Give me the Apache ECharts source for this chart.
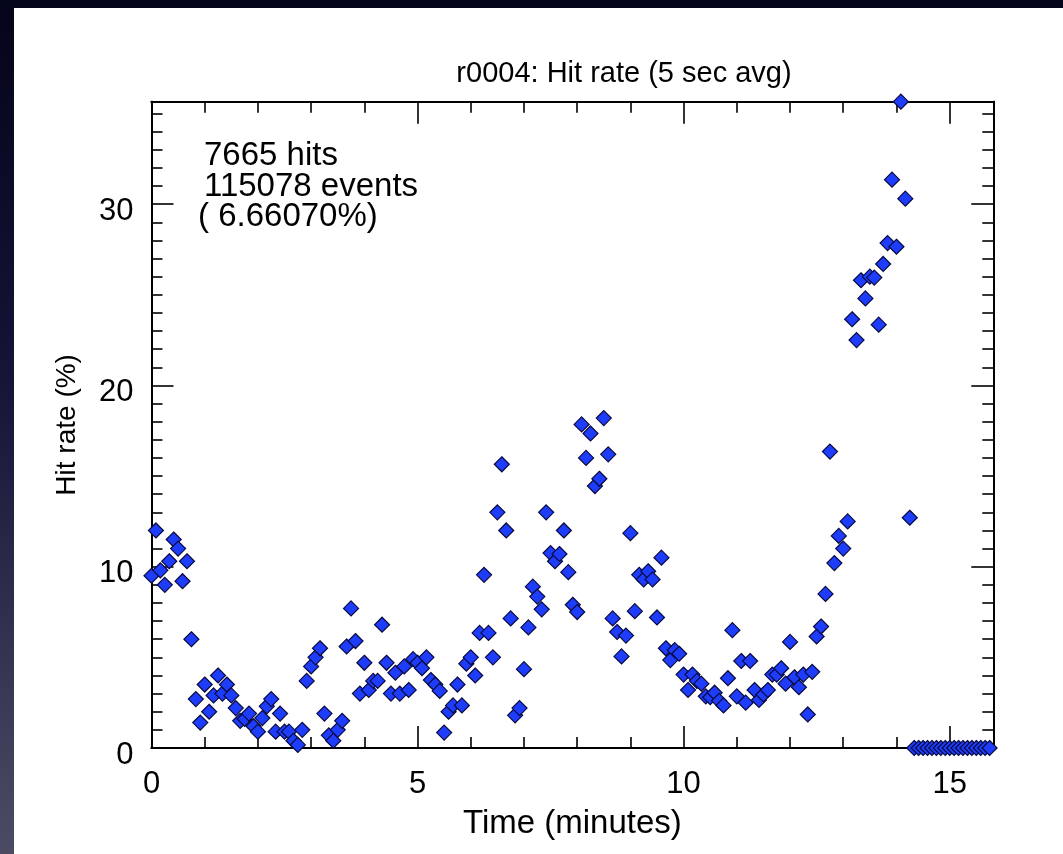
<!DOCTYPE html>
<html>
<head>
<meta charset="utf-8" />
<title>r0004: Hit rate</title>
<style>
  html, body { margin: 0; padding: 0; }
  body {
    width: 1063px; height: 854px; position: relative; overflow: hidden;
    background: linear-gradient(to bottom, #04041a 0%, #141538 45%, #4b4c64 100%);
  }
  #panel { position: absolute; left: 14px; top: 8px; right: 0; bottom: 0; background: #fff; }
  #main { position: absolute; left: 0; top: 0; width: 1063px; height: 854px; }
</style>
</head>
<body>
<div id="panel"></div>
<div id="main"></div>
<script src="https://cdn.jsdelivr.net/npm/echarts@6/dist/echarts.min.js"></script>
<script>
// one sample every 5 seconds (title: "5 sec avg"), x axis in minutes
var SAMPLE_SEC = 5;

// hit rate (%) per 5 s sample
var hitRate = [
  9.5, 12.0, 9.8, 9.0, 10.3, 11.5, 11.0, 9.2, 10.3, 6.0,
  2.7, 1.4, 3.5, 2.0, 2.9, 4.0, 3.0, 3.5, 2.9, 2.2,
  1.5, 1.6, 1.9, 1.2, 0.9, 1.65, 2.3, 2.7, 0.9, 1.9,
  0.9, 0.9, 0.4, 0.17, 1.0, 3.7, 4.5, 5.0, 5.5, 1.9,
  0.7, 0.4, 1.0, 1.5, 5.6, 7.7, 5.9, 3.0, 4.7, 3.2,
  3.7, 3.7, 6.8, 4.7, 3.0, 4.15, 3.0, 4.5, 3.2, 4.9,
  4.7, 4.4, 5.0, 3.75, 3.5, 3.15, 0.85, 2.0, 2.35, 3.5,
  2.35, 4.65, 5.0, 4.0, 6.35, 9.55, 6.35, 5.0, 13.0, 15.65,
  12.0, 7.15, 1.8, 2.2, 4.35, 6.65, 8.9, 8.35, 7.65, 13.0,
  10.75, 10.3, 10.7, 12.0, 9.7, 7.9, 7.5, 17.85, 16.0, 17.35,
  14.45, 14.85, 18.2, 16.2, 7.15, 6.4, 5.05, 6.2, 11.85, 7.55,
  9.55, 9.3, 9.75, 9.3, 7.2, 10.5, 5.5, 4.85, 5.4, 5.2,
  4.05, 3.2, 4.05, 3.7, 3.55, 2.85, 2.8, 3.05, 2.6, 2.35,
  3.85, 6.5, 2.85, 4.8, 2.5, 4.8, 3.2, 2.65, 2.95, 3.2,
  4.05, 4.05, 4.4, 3.55, 5.85, 3.9, 3.35, 4.05, 1.85, 4.2,
  6.15, 6.7, 8.5, 16.35, 10.2, 11.7, 11.0, 12.5, 23.65, 22.5,
  25.8, 24.8, 26.0, 25.95, 23.35, 26.7, 27.85, 31.35, 27.65, 35.65,
  30.3, 12.7, 0, 0, 0, 0, 0, 0, 0, 0,
  0, 0, 0, 0, 0, 0, 0, 0, 0, 0
];

var xLabels = [0, 5, 10, 15];
var xMinor = [1, 2, 3, 4, 6, 7, 8, 9, 11, 12, 13, 14];
var yLabels = [0, 10, 20, 30];
var yMinor = [1, 2, 3, 4, 5, 6, 7, 8, 9, 11, 12, 13, 14, 15, 16, 17, 18, 19,
              21, 22, 23, 24, 25, 26, 27, 28, 29, 31, 32, 33, 34, 35];
var X_MAX = 15.82;
var Y_MAX = 35.65;

var FONT = '"Liberation Sans", Arial, Helvetica, sans-serif';

function axisBase(pos, max, ticks, len) {
    return {
        type: 'value',
        position: pos,
        min: 0,
        max: max,
        axisLine: { show: true, onZero: false, lineStyle: { color: '#000', width: 2 } },
        axisTick: { show: true, inside: true, length: len, customValues: ticks,
                    lineStyle: { color: '#000', width: 1.6 } },
        axisLabel: { show: false },
        splitLine: { show: false }
    };
}

var xMain = axisBase('bottom', X_MAX, xLabels, 22);
xMain.axisLabel = { show: true, customValues: xLabels, fontSize: 31, color: '#000',
                    fontFamily: FONT, margin: 21 };
xMain.name = 'Time (minutes)';
xMain.nameLocation = 'middle';
xMain.nameGap = 59;
xMain.nameTextStyle = { fontSize: 33, color: '#000', fontFamily: FONT };

var yMain = axisBase('left', Y_MAX, yLabels, 22);
// labels sit a little below their ticks in the original
yMain.axisLabel = { show: true, customValues: yLabels, fontSize: 31, color: '#000',
                    fontFamily: FONT, margin: 18, verticalAlign: 'top', lineHeight: 14 };
yMain.name = 'Hit rate (%)';
yMain.nameLocation = 'middle';
yMain.nameGap = 70;
yMain.nameTextStyle = { fontSize: 28, color: '#000', fontFamily: FONT };

var myChart = echarts.init(document.getElementById('main'), null, { renderer: 'canvas' });
var option = {
    animation: false,
    backgroundColor: 'transparent',
    title: {
        text: 'r0004: Hit rate (5 sec avg)',
        left: 619,
        top: 54,
        textAlign: 'center',
        textStyle: { fontSize: 29, fontWeight: 'normal', color: '#000', fontFamily: FONT }
    },
    grid: { left: 151.5, right: 69.7, top: 101.7, bottom: 106 },
    xAxis: [
        xMain,
        axisBase('bottom', X_MAX, xMinor, 11),
        axisBase('top', X_MAX, xLabels, 22),
        axisBase('top', X_MAX, xMinor, 11)
    ],
    yAxis: [
        yMain,
        axisBase('left', Y_MAX, yMinor, 11),
        axisBase('right', Y_MAX, yLabels, 22),
        axisBase('right', Y_MAX, yMinor, 11)
    ],
    graphic: [
        { type: 'text', left: 204, top: 139, style: { text: '7665 hits', font: '33px ' + FONT, fill: '#000' } },
        { type: 'text', left: 204, top: 170, style: { text: '115078 events', font: '33px ' + FONT, fill: '#000' } },
        { type: 'text', left: 198, top: 200, style: { text: '( 6.66070%)', font: '33px ' + FONT, fill: '#000' } }
    ],
    series: [{
        type: 'scatter',
        xAxisIndex: 0,
        yAxisIndex: 0,
        data: hitRate.map(function (v, i) { return [i * SAMPLE_SEC / 60, v]; }),
        symbol: 'diamond',
        symbolSize: 15,
        clip: false,
        itemStyle: { color: '#1e3dfa', borderColor: '#0a0a40', borderWidth: 1.2, opacity: 1 }
    }]
};
myChart.setOption(option);
</script>
</body>
</html>
